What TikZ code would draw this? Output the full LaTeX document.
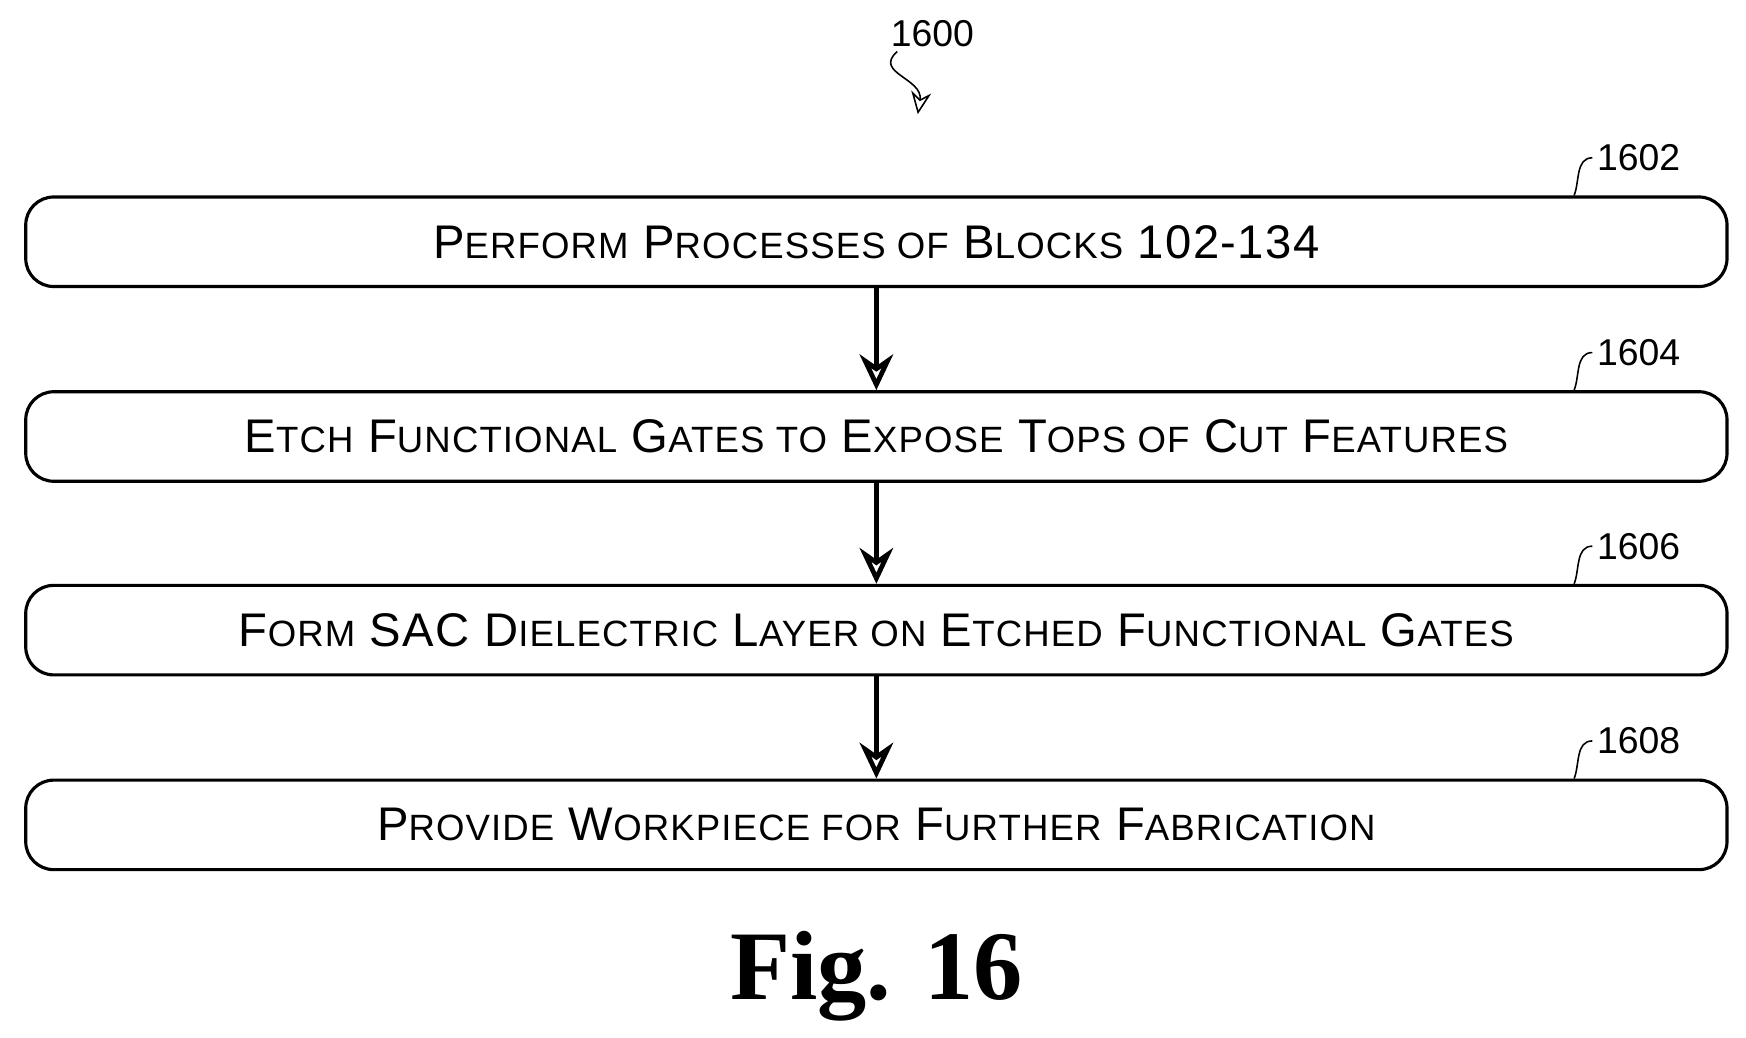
\documentclass[tikz,border=0pt]{standalone}
\usepackage{fontspec}
\setsansfont{Liberation Sans}
\setmainfont{Liberation Serif}
\usetikzlibrary{shapes.geometric, arrows.meta, decorations.pathmorphing}
\newcommand{\lc}[1]{{\fontsize{9.3}{10}\selectfont #1}}
\tikzstyle{flowstep} = [rectangle, rounded corners=0.25cm, minimum width=15.2cm,
    minimum height=0.8cm, text centered, draw=black, thick,
font=\fontsize{12}{14}\selectfont\sffamily\addfontfeature{LetterSpace=3}]
\tikzstyle{arrow} = [very thick,-{Stealth[length=0.32cm,width=0.3cm,open]}]
\tikzstyle{ref} = [font=\fontsize{9.5}{11}\selectfont\sffamily, inner sep=1pt]
\tikzstyle{lead} = [thin]

\begin{document}
\begin{tikzpicture}
            \useasboundingbox (0,0) rectangle (15.6,-9.27);
            % Steps
            \node[flowstep] (perform) at (7.83,-2.16) {P\lc{ERFORM} P\lc{ROCESSES OF} B\lc{LOCKS} 102-134};
            \node[flowstep, below of=perform, node distance=1.74cm] (etch) {E\lc{TCH} F\lc{UNCTIONAL} G\lc{ATES TO} E\lc{XPOSE} T\lc{OPS OF} C\lc{UT} F\lc{EATURES}};
            \node[flowstep, below of=etch, node distance=1.73cm] (form) {F\lc{ORM} SAC D\lc{IELECTRIC} L\lc{AYER ON} E\lc{TCHED} F\lc{UNCTIONAL} G\lc{ATES}};
            \node[flowstep, below of=form, node distance=1.74cm] (provide) {P\lc{ROVIDE} W\lc{ORKPIECE FOR} F\lc{URTHER} F\lc{ABRICATION}};
            % Reference numerals
            \node[ref] (n1600) at (8.33,-0.3) {1600};
            \coordinate (p1600) at (8.2,-1.02);
            \node[ref] (n1602) at (14.64,-1.41) {1602};
            \node[ref] (n1604) at (14.64,-3.15) {1604};
            \node[ref] (n1606) at (14.64,-4.88) {1606};
            \node[ref] (n1608) at (14.64,-6.62) {1608};
            \node[font=\fontsize{25}{28}\selectfont\bfseries] (fig) at (7.83,-8.72) {Fig. 16};
            % Arrows
            \draw[arrow] (perform) -- (etch);
            \draw[arrow] (etch) -- (form);
            \draw[arrow] (form) -- (provide);
            \draw[thin,-{Stealth[length=0.2cm,width=0.18cm,open]}] (n1600.south west) ++(0.1,0)
                .. controls (7.8,-0.65) and (8.25,-0.7) .. (p1600);
            \foreach \n/\s in {n1602/perform,n1604/etch,n1606/form,n1608/provide}
                \draw[lead] (\n.west) .. controls +(-0.15,0) and +(0.05,0.12) .. ([xshift=-1.38cm]\s.north east);
        \end{tikzpicture}
\end{document}
